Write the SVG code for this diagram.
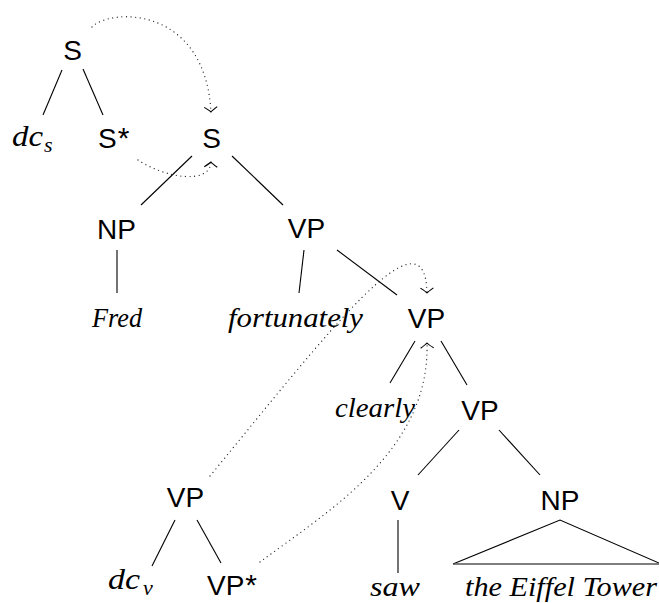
<svg xmlns="http://www.w3.org/2000/svg" width="659" height="603" viewBox="0 0 659 603">
<style>
.cat{font-family:"Liberation Sans",Arial,sans-serif;font-size:28px;fill:#000;text-anchor:middle}
.ast{font-size:30px}
.word{font-family:"Liberation Serif","Times New Roman",serif;font-style:italic;font-size:28px;fill:#000}
.math{font-family:"Liberation Serif","Times New Roman",serif;font-style:italic;font-size:30px;fill:#000}
.sub{font-family:"Liberation Serif","Times New Roman",serif;font-style:italic;font-size:22px;fill:#000}
.edge{stroke:#000;stroke-width:1.1;fill:none}
.dot{stroke:#222;stroke-width:1.3;stroke-linecap:round;stroke-dasharray:0 4.6;fill:none}
</style>
<defs>
<marker id="to" markerUnits="userSpaceOnUse" markerWidth="16" markerHeight="16" viewBox="-8 -8 16 16" refX="0" refY="0" orient="auto">
<path d="M -5,-6.5 Q -1.5,-1.3 0,0 Q -1.5,1.3 -5,6.5" stroke="#000" stroke-width="1.1" fill="none"/>
</marker>
</defs>

<g id="connectors">
<line class="edge" x1="62" y1="70" x2="43" y2="115"/>
<line class="edge" x1="83" y1="69" x2="103" y2="115"/>
<line class="edge" x1="192" y1="156" x2="141" y2="205"/>
<line class="edge" x1="232" y1="156" x2="283" y2="205"/>
<line class="edge" x1="117" y1="250" x2="117" y2="293"/>
<line class="edge" x1="304" y1="250" x2="299" y2="293"/>
<line class="edge" x1="337" y1="250" x2="397" y2="295"/>
<line class="edge" x1="415" y1="341" x2="390" y2="383"/>
<line class="edge" x1="441" y1="341" x2="467" y2="385"/>
<line class="edge" x1="459" y1="430" x2="418" y2="475"/>
<line class="edge" x1="499" y1="430" x2="540" y2="475"/>
<line class="edge" x1="398" y1="520" x2="398" y2="573"/>
<line class="edge" x1="175" y1="520" x2="152" y2="566"/>
<line class="edge" x1="197" y1="520" x2="221" y2="563"/>
<path class="edge" d="M 453,564 L 560,520 L 659,563"/>
<line x1="453" y1="564" x2="659" y2="564" stroke="#555" stroke-width="1.6"/>
<path class="dot" d="M 92,27 C 110,8 205,5 211,112" marker-end="url(#to)"/>
<path class="dot" d="M 138,160 C 165,178 210,185 211,162" marker-end="url(#to)"/>
<path class="dot" d="M 210,476 C 330,330 425,205 427,293" marker-end="url(#to)"/>
<path class="dot" d="M 260,562 C 330,510 430,450 427,343" marker-end="url(#to)"/>
</g>

<g id="n-S-top"><text class="cat" x="72.5" y="60">S</text></g>
<g id="n-dcs"><text class="math" x="12" y="146" textLength="31" lengthAdjust="spacingAndGlyphs">dc</text><text class="sub" x="44" y="152">s</text></g>
<g id="n-Sfoot"><text class="cat" x="98" y="148" style="text-anchor:start">S<tspan class="ast" dx="1">*</tspan></text></g>
<g id="n-S"><text class="cat" x="211.5" y="148">S</text></g>
<g id="n-NP1"><text class="cat" x="116.5" y="239">NP</text></g>
<g id="n-VP1"><text class="cat" x="306.5" y="238">VP</text></g>
<g id="n-Fred"><text class="word" x="92" y="327" textLength="50" lengthAdjust="spacingAndGlyphs">Fred</text></g>
<g id="n-fortunately"><text class="word" x="228" y="327" textLength="135" lengthAdjust="spacingAndGlyphs">fortunately</text></g>
<g id="n-VP2"><text class="cat" x="426.5" y="328">VP</text></g>
<g id="n-clearly"><text class="word" x="335" y="417" textLength="80" lengthAdjust="spacingAndGlyphs">clearly</text></g>
<g id="n-VP3"><text class="cat" x="480" y="420">VP</text></g>
<g id="n-VP-aux"><text class="cat" x="185.5" y="507">VP</text></g>
<g id="n-V"><text class="cat" x="400" y="510">V</text></g>
<g id="n-NP2"><text class="cat" x="560" y="510">NP</text></g>
<g id="n-dcv"><text class="math" x="108" y="589" textLength="32" lengthAdjust="spacingAndGlyphs">dc</text><text class="sub" x="143" y="595">v</text></g>
<g id="n-VPfoot"><text class="cat" x="207" y="595" style="text-anchor:start">VP<tspan class="ast" dx="1">*</tspan></text></g>
<g id="n-saw"><text class="word" x="370" y="596" textLength="50" lengthAdjust="spacingAndGlyphs">saw</text></g>
<g id="n-eiffel"><text class="word" x="465" y="596" textLength="192" lengthAdjust="spacingAndGlyphs">the Eiffel Tower</text></g>
</svg>
